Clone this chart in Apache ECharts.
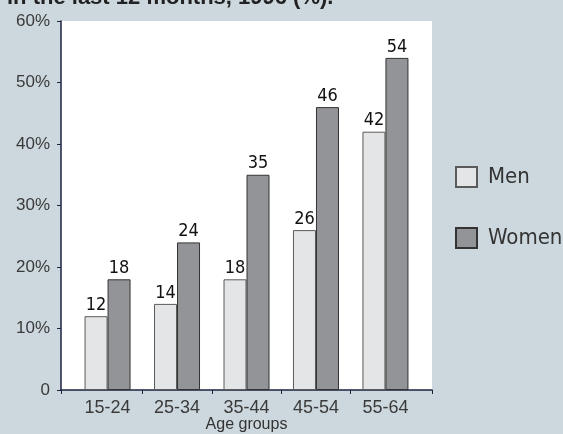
<!DOCTYPE html>
<html>
<head>
<meta charset="utf-8">
<script src="https://cdn.jsdelivr.net/npm/echarts@6/dist/echarts.min.js"></script>
<style>
  html, body { margin: 0; padding: 0; background: #cdd8de; }
  #chart { width: 563px; height: 434px; }
</style>
</head>
<body>
<div id="chart"></div>
<script>
// Age groups and shares (%) by sex
const categories = ['15-24', '25-34', '35-44', '45-54', '55-64'];
const men = [12, 14, 18, 26, 42];
const women = [18, 24, 35, 46, 54];
const yTicks = [0, 10, 20, 30, 40, 50, 60];

// Category positions on a numeric x scale so the axis line can run past the outer bars
const catPos = categories.map((_, i) => i);
const pad = 0.67;
const bounds = [-pad].concat(categories.slice(1).map((_, i) => i + 0.5), [categories.length - 1 + pad]);

const chart = echarts.init(document.getElementById('chart'));
const textFont = "'Liberation Sans', Arial, sans-serif";
const narrowFont = "'Liberation Sans Narrow', 'DejaVu Sans Condensed', sans-serif";

chart.setOption({
  backgroundColor: '#cdd8de',
  animation: false,
  title: {
    text: 'in the last 12 months, 1996 (%).',
    left: 2,
    top: -18,
    textStyle: { fontFamily: textFont, fontWeight: 'bold', fontSize: 22, color: '#222' }
  },
  legend: {
    orient: 'vertical',
    left: 455,
    top: 166,
    padding: 0,
    itemWidth: 21,
    itemHeight: 20,
    itemGap: 39,
    icon: 'rect',
    textStyle: {
      fontFamily: narrowFont, fontSize: 22, color: '#333',
      padding: [0, 0, 0, 6]
    },
    data: ['Men', 'Women']
  },
  grid: {
    left: 61, right: 131, top: 21, bottom: 44,
    outerBoundsMode: 'none',
    containLabel: false,
    backgroundColor: '#ffffff', show: true, borderWidth: 0
  },
  xAxis: {
    type: 'value',
    min: -pad,
    max: categories.length - 1 + pad,
    name: 'Age groups',
    nameLocation: 'middle',
    nameGap: 27,
    nameMoveOverlap: false,
    nameTextStyle: { fontFamily: textFont, fontSize: 16, color: '#333' },
    axisLine: { show: true, onZero: false, lineStyle: { color: '#1c2240', width: 1.5 } },
    axisTick: { show: true, length: 4, customValues: bounds, lineStyle: { color: '#1c2240' } },
    axisLabel: {
      customValues: catPos,
      margin: 9,
      fontFamily: textFont,
      fontSize: 18,
      color: '#3a3a3a',
      formatter: v => categories[Math.round(v)]
    },
    splitLine: { show: false }
  },
  yAxis: {
    type: 'value',
    min: yTicks[0],
    max: yTicks[yTicks.length - 1],
    interval: 10,
    axisLine: { show: true, onZero: false, lineStyle: { color: '#1c2240', width: 1.5 } },
    axisTick: { show: true, length: 4, lineStyle: { color: '#1c2240' } },
    axisLabel: {
      margin: 11,
      fontFamily: textFont,
      fontSize: 17,
      color: '#3a3a3a',
      formatter: v => (v === 0 ? '0' : v + '%')
    },
    splitLine: { show: false }
  },
  series: [
    {
      name: 'Men',
      type: 'bar',
      barWidth: 23,
      barGap: '0%',
      data: catPos.map((x, i) => [x, men[i]]),
      itemStyle: { color: '#e4e5e7', borderColor: '#5a5a5a', borderWidth: 1 },
      label: {
        show: true, position: 'top', distance: 2,
        fontFamily: narrowFont, fontSize: 18, color: '#111',
        formatter: p => p.value[1]
      }
    },
    {
      name: 'Women',
      type: 'bar',
      barWidth: 23,
      barGap: '0%',
      data: catPos.map((x, i) => [x, women[i]]),
      itemStyle: { color: '#929497', borderColor: '#333', borderWidth: 1 },
      label: {
        show: true, position: 'top', distance: 2,
        fontFamily: narrowFont, fontSize: 18, color: '#111',
        formatter: p => p.value[1]
      }
    }
  ]
});
</script>
</body>
</html>
